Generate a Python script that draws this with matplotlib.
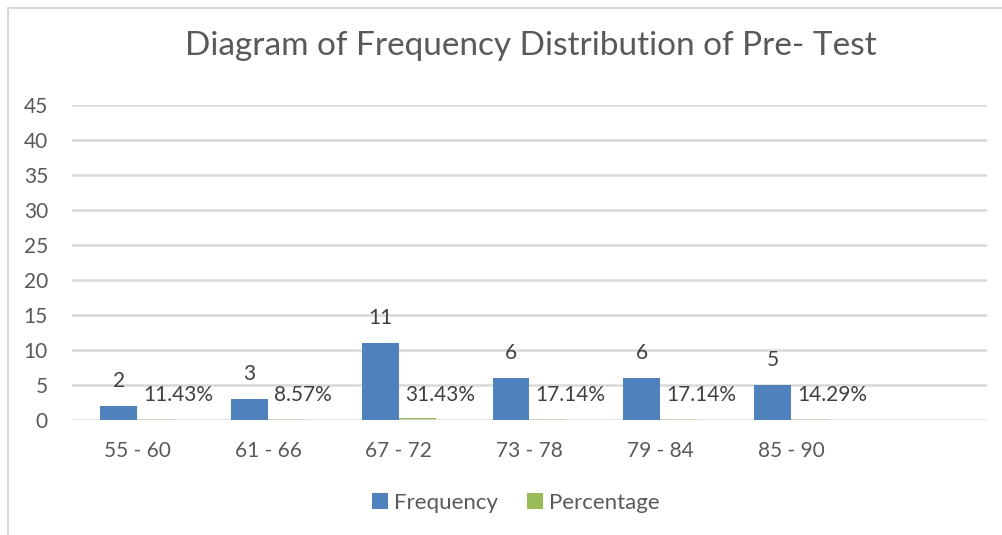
import matplotlib
matplotlib.use("Agg")
import matplotlib.pyplot as plt
import numpy as np
from matplotlib.patches import Rectangle

categories = ['55 - 60', '61 - 66', '67 - 72', '73 - 78', '79 - 84', '85 - 90']
frequency = [2, 3, 11, 6, 6, 5]
percentage = [11.43, 8.57, 31.43, 17.14, 17.14, 14.29]
y_ticks = [0, 5, 10, 15, 20, 25, 30, 35, 40, 45]
title = 'Diagram of Frequency Distribution of Pre- Test'

plt.rcParams['font.family'] = ['Lato', 'DejaVu Sans']
TXT = '#595959'
BLUE = '#4F81BD'
GREEN = '#9BBB59'
GRID = '#D9D9D9'

W, H = 1003, 535
fig = plt.figure(figsize=(W / 100, H / 100), dpi=100)
fig.patch.set_facecolor('white')

# chart area border
fig.add_artist(Rectangle((8 / W, -0.1), 1.2, 1 - 8 / H + 0.1, transform=fig.transFigure,
                         fill=False, edgecolor='#D9D9D9', linewidth=1.5))

ax = fig.add_axes([72 / W, 1 - 420 / H, (987 - 72) / W, 315 / H])
n_slots = 7
x = np.arange(len(categories))
w = 0.283
ax.bar(x - w / 2, frequency, width=w, color=BLUE, label='Frequency', zorder=3)
ax.bar(x + w / 2, [p / 100 for p in percentage], width=w, color=GREEN, label='Percentage', zorder=1)

for xi, f in zip(x, frequency):
    ax.annotate(str(f), (xi - w / 2, f), xytext=(0, 25), textcoords='offset pixels',
                ha='center', va='center', fontsize=15, color='#404040')
for xi, p in zip(x, percentage):
    ax.annotate(f'{p:.2f}%', (xi, 0), xytext=(6, 25), textcoords='offset pixels',
                ha='left', va='center', fontsize=15, color='#404040')

ax.set_xlim(-0.5, n_slots - 0.5)
ax.set_ylim(0, 45)
ax.set_yticks(y_ticks)
ax.set_xticks(x)
ax.set_xticklabels(categories)
ax.tick_params(axis='both', length=0, labelsize=15, colors=TXT)
ax.tick_params(axis='y', pad=24 * 0.72)
ax.tick_params(axis='x', pad=21 * 0.72)
ax.grid(axis='y', color=GRID, linewidth=1.8, zorder=2)
ax.set_axisbelow(False)
for s in ax.spines.values():
    s.set_visible(False)

fig.text(531 / W, 1 - 46 / H, title, ha='center', va='center', fontsize=24, color=TXT)

fig.legend(loc='center', bbox_to_anchor=(516 / W, 1 - 503 / H), ncol=2, frameon=False,
           fontsize=16, labelcolor=TXT, handlelength=0.7, handleheight=0.7,
           handletextpad=0.3, columnspacing=1.3)

fig.savefig('out.png', dpi=100, facecolor='white')
